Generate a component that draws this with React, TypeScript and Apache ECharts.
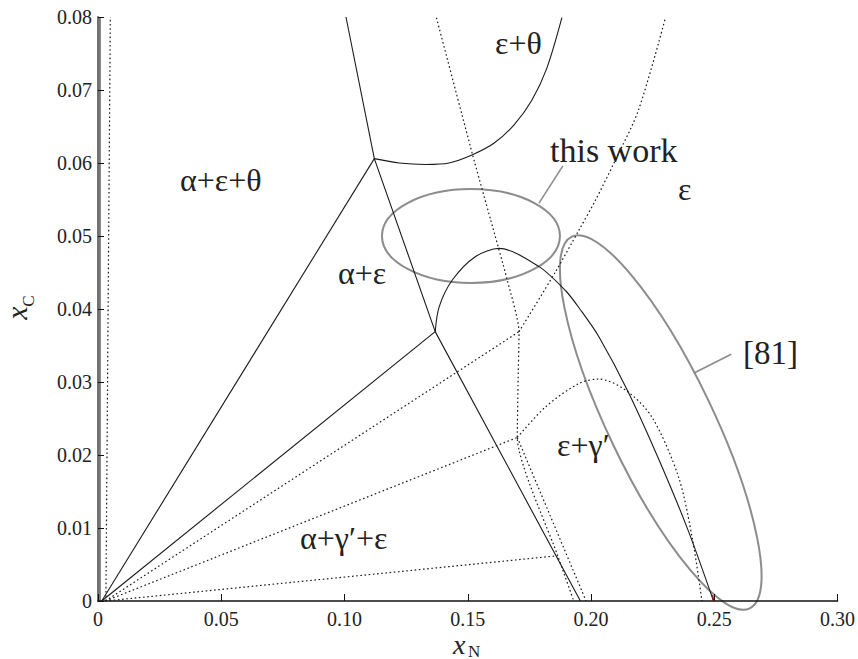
import React, { useEffect, useRef } from "react";
import * as echarts from "echarts";

const FONT = "Liberation Serif, Times New Roman, serif";
const INK = "#1a1a1a";
const GREY = "#8c8c8c";

// Tick labels of the two composition axes
const xTickLabels = ["0", "0.05", "0.10", "0.15", "0.20", "0.25", "0.30"];
const yTickLabels = ["0", "0.01", "0.02", "0.03", "0.04", "0.05", "0.06", "0.07", "0.08"];

// Phase boundaries, [x_N, x_C] — solid set
const solidAlphaEdge = [[0.0008, 0], [0.0008, 0.08]];
const solidTieUpper = [[0.0015, 0], [0.1121, 0.0606]];
const solidTieLower = [[0.0015, 0], [0.1368, 0.0369]];
const solidThetaBoundary = [[0.1006, 0.08], [0.1121, 0.0606], [0.1368, 0.0369], [0.1957, 0]];
const solidEpsThetaCurve = [
  [0.1121, 0.0606], [0.1222, 0.06], [0.1331, 0.0598], [0.1424, 0.06], [0.1517, 0.0611],
  [0.1606, 0.0627], [0.1687, 0.0652], [0.176, 0.0686], [0.1821, 0.073], [0.1882, 0.0799],
];
const solidGammaDome = [
  [0.1368, 0.0369], [0.1384, 0.0403], [0.1438, 0.044], [0.1532, 0.0472], [0.1627, 0.0483],
  [0.1789, 0.0458], [0.1897, 0.0425], [0.1957, 0.0399], [0.2032, 0.0362], [0.2153, 0.0285],
  [0.2288, 0.0184], [0.2396, 0.0095], [0.2497, 0],
];
const redStub = [[0.2497, 0], [0.2493, 0.0008]];

// Phase boundaries — dotted set
const dottedAlphaEdge = [[0.0032, 0], [0.005, 0.08]];
const dottedTieUpper = [[0.003, 0], [0.1708, 0.0369]];
const dottedTieMiddle = [[0.003, 0], [0.1701, 0.0224]];
const dottedTieLower = [[0.003, 0], [0.1865, 0.0062]];
const dottedThetaBoundary = [
  [0.1373, 0.0799], [0.1519, 0.0612], [0.1593, 0.0522], [0.166, 0.044], [0.1708, 0.0369],
  [0.1704, 0.0296], [0.1701, 0.0224], [0.1865, 0.0062], [0.193, 0],
];
const dottedGammaEdge = [[0.1701, 0.0224], [0.198, 0]];
const dottedEpsCurve = [
  [0.1708, 0.0369], [0.1856, 0.0451], [0.1951, 0.0508], [0.2018, 0.0549],
  [0.2099, 0.0604], [0.2193, 0.0673], [0.2302, 0.0799],
];
const dottedGammaDome = [
  [0.1701, 0.0224], [0.1816, 0.0266], [0.1951, 0.0298], [0.2031, 0.0304], [0.214, 0.0289],
  [0.2247, 0.0252], [0.2355, 0.017], [0.2412, 0.0084], [0.245, 0],
];

// Leader lines from the annotations to their ellipses
const leaderThisWork = [[0.1789, 0.0545], [0.1886, 0.0596]];
const leaderRef81 = [[0.2416, 0.0312], [0.2569, 0.0338]];

// Annotation ellipses: centre in data units, semi-axes in pixels
const ellipses = [
  { center: [0.1513, 0.05], rx: 89, ry: 47, rotationDeg: 0 },
  { center: [0.2283, 0.02445], rx: 206, ry: 52.5, rotationDeg: -64.4 },
];

// Region labels (pixel anchors, left / vertical middle)
const regionLabels = [
  { text: "α+ε+θ", x: 180, y: 180, size: 32 },
  { text: "ε+θ", x: 495, y: 43, size: 32 },
  { text: "this work", x: 550, y: 150, size: 34 },
  { text: "ε", x: 678, y: 189, size: 32 },
  { text: "α+ε", x: 338, y: 273, size: 32 },
  { text: "[81]", x: 743, y: 353, size: 33 },
  { text: "ε+γ′", x: 557, y: 445, size: 32 },
  { text: "α+γ′+ε", x: 300, y: 538, size: 32 },
];

function boundary(data: number[][], dotted: boolean, smooth: number | boolean = false, color = INK, width = 1.1) {
  return {
    type: "line",
    data,
    showSymbol: false,
    symbol: "none",
    smooth,
    silent: true,
    lineStyle: { color, width: dotted ? 1.2 : width, type: dotted ? [1.6, 2.6] : "solid" },
  };
}

export default function App() {
  const ref = useRef<HTMLDivElement>(null);

  useEffect(() => {
    if (!ref.current) return;
    const chart = echarts.init(ref.current, null, { renderer: "svg" });

    const axisLabelStyle = { color: "#222", fontFamily: FONT, fontSize: 20 };

    chart.setOption({
      animation: false,
      backgroundColor: "#ffffff",
      textStyle: { fontFamily: FONT },
      grid: { left: 98, right: 19, top: 17, bottom: 58 },
      xAxis: {
        type: "value",
        min: 0,
        max: 0.3,
        interval: 0.05,
        splitLine: { show: false },
        axisLine: { show: true, onZero: false, lineStyle: { color: "#111", width: 1.6 } },
        axisTick: { show: true, inside: true, length: 7, lineStyle: { color: "#111", width: 1 } },
        axisLabel: {
          ...axisLabelStyle,
          margin: 8,
          formatter: (_v: number, i: number) => xTickLabels[i] ?? "",
        },
      },
      yAxis: {
        type: "value",
        min: 0,
        max: 0.08,
        interval: 0.01,
        splitLine: { show: false },
        axisLine: { show: true, onZero: false, lineStyle: { color: "#6f6f6f", width: 2 } },
        axisTick: { show: true, inside: true, length: 6, lineStyle: { color: "#111", width: 1 } },
        axisLabel: {
          ...axisLabelStyle,
          margin: 6,
          formatter: (_v: number, i: number) => yTickLabels[i] ?? "",
        },
      },
      series: [
        boundary(solidAlphaEdge, false),
        boundary(solidTieUpper, false),
        boundary(solidTieLower, false),
        boundary(solidThetaBoundary, false),
        boundary(solidEpsThetaCurve, false, 0.3),
        boundary(solidGammaDome, false, 0.3),
        boundary(redStub, false, false, "#8b1a1a", 1.6),
        boundary(dottedAlphaEdge, true),
        boundary(dottedTieUpper, true),
        boundary(dottedTieMiddle, true),
        boundary(dottedTieLower, true),
        boundary(dottedThetaBoundary, true, 0.2),
        boundary(dottedGammaEdge, true),
        boundary(dottedEpsCurve, true, 0.3),
        boundary(dottedGammaDome, true, 0.3),
        boundary(leaderThisWork, false, false, GREY, 1.6),
        boundary(leaderRef81, false, false, GREY, 1.6),
      ],
    });

    const toPx = (p: number[]) => chart.convertToPixel({ gridIndex: 0 }, p) as number[];

    const graphics: any[] = [];
    ellipses.forEach((e) => {
      const [cx, cy] = toPx(e.center);
      graphics.push({
        type: "ellipse",
        x: cx,
        y: cy,
        rotation: (e.rotationDeg * Math.PI) / 180,
        shape: { cx: 0, cy: 0, rx: e.rx, ry: e.ry },
        style: { fill: "none", stroke: GREY, lineWidth: 2 },
        silent: true,
      });
    });
    regionLabels.forEach((l) => {
      graphics.push({
        type: "text",
        x: l.x,
        y: l.y,
        style: {
          text: l.text,
          fill: "#222",
          fontFamily: FONT,
          fontSize: l.size,
          textAlign: "left",
          textVerticalAlign: "middle",
        },
        silent: true,
      });
    });
    // axis titles x_N and x_C (italic x with upright subscript)
    const title = (text: string, x: number, y: number, size: number, italic: boolean, rotation = 0) => ({
      type: "text",
      x,
      y,
      rotation,
      silent: true,
      style: {
        text,
        fill: "#222",
        fontFamily: FONT,
        fontSize: size,
        fontStyle: italic ? "italic" : "normal",
        lineHeight: Math.round(size * 0.5),
        textAlign: rotation ? "center" : "left",
        textVerticalAlign: "middle",
      },
    });
    graphics.push(
      title("x", 453, 644, 28, true),
      title("N", 468, 651, 17, false),
      title("x", 16, 313, 30, true, Math.PI / 2),
      title("C", 28, 301, 17, false, Math.PI / 2)
    );

    chart.setOption({ graphic: graphics });

    return () => chart.dispose();
  }, []);

  return (
    <div
      ref={ref}
      style={{ position: "fixed", left: 0, top: 0, width: 858, height: 659, background: "#fff" }}
    />
  );
}
